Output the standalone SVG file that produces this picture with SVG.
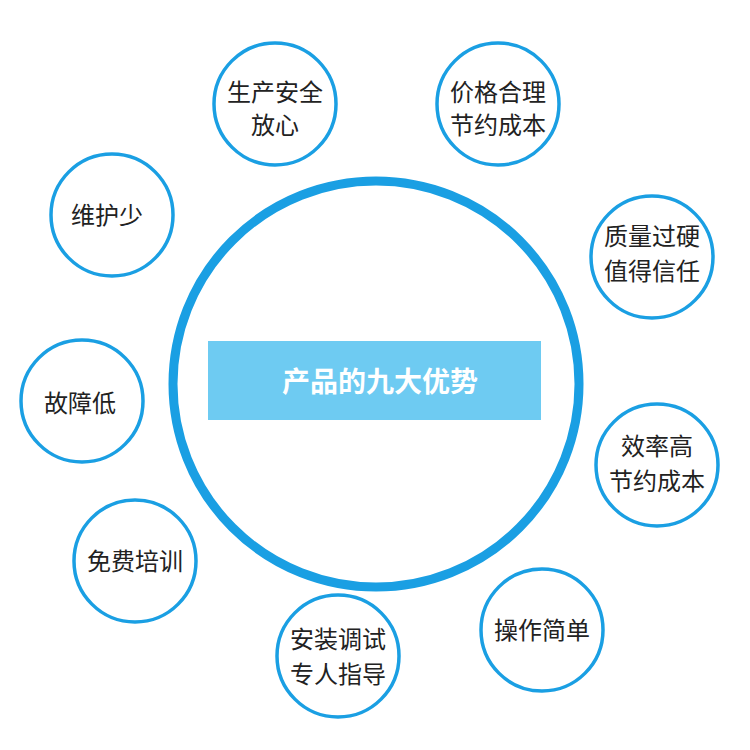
<svg xmlns="http://www.w3.org/2000/svg" width="750" height="750" viewBox="0 0 750 750">
<style>
.s{fill:#fff;stroke:#1a9fe3;stroke-width:3.5}
.t{font-family:"Noto Sans CJK SC",sans-serif;font-size:24px;fill:#222;text-anchor:middle}
</style>
<rect width="750" height="750" fill="#fff"/>
<g id="center">
<circle cx="376" cy="384" r="203" fill="#fff" stroke="#1a9fe3" stroke-width="9"/>
<rect x="208" y="341" width="333" height="79" fill="#6ecbf2"/>
<text x="380" y="392" font-family="Noto Sans CJK SC,sans-serif" font-size="28" font-weight="bold" fill="#fff" text-anchor="middle">产品的九大优势</text>
</g>
<g id="connectors"></g>
<g id="n1"><circle class="s" cx="275" cy="104" r="61"/><text class="t" x="275" y="101">生产安全</text><text class="t" x="275" y="134">放心</text></g>
<g id="n2"><circle class="s" cx="498" cy="104" r="61"/><text class="t" x="498" y="101">价格合理</text><text class="t" x="498" y="134">节约成本</text></g>
<g id="n3"><circle class="s" cx="112" cy="215" r="61"/><text class="t" x="107" y="224">维护少</text></g>
<g id="n4"><circle class="s" cx="652" cy="257" r="61"/><text class="t" x="652" y="245">质量过硬</text><text class="t" x="652" y="280">值得信任</text></g>
<g id="n5"><circle class="s" cx="82" cy="401" r="61"/><text class="t" x="80" y="412">故障低</text></g>
<g id="n6"><circle class="s" cx="657" cy="465" r="61"/><text class="t" x="657" y="455">效率高</text><text class="t" x="657" y="490">节约成本</text></g>
<g id="n7"><circle class="s" cx="135" cy="561" r="61"/><text class="t" x="135" y="570">免费培训</text></g>
<g id="n8"><circle class="s" cx="542" cy="630" r="61"/><text class="t" x="542" y="639">操作简单</text></g>
<g id="n9"><circle class="s" cx="338" cy="656" r="61"/><text class="t" x="338" y="648">安装调试</text><text class="t" x="338" y="683">专人指导</text></g>
</svg>
